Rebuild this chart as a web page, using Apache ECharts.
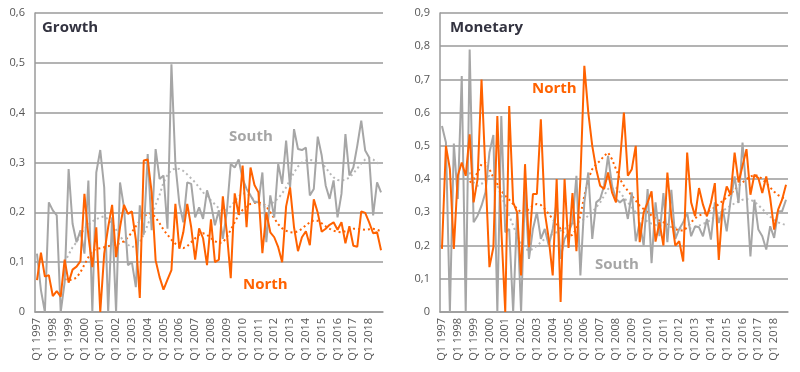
<!DOCTYPE html>
<html><head><meta charset="utf-8">
<script src="https://cdn.jsdelivr.net/npm/echarts@6/dist/echarts.min.js"></script>
<style>html,body{margin:0;padding:0;background:#fff}#c{width:800px;height:372px}</style>
</head><body><div id="c"></div>
<script>
const years = [];
for (let y = 1997; y <= 2018; y++) years.push(y);
const quarters = [];
years.forEach(y => { for (let q = 1; q <= 4; q++) quarters.push('Q' + q + ' ' + y); });

const growthNorth = [0.064,0.119,0.071,0.074,0.032,0.042,0.031,0.105,0.059,0.085,
0.091,0.102,0.237,0.153,0.09,0.17,0.0,0.117,0.17,0.215,
0.11,0.17,0.215,0.197,0.202,0.145,0.028,0.304,0.306,0.24,
0.104,0.07,0.045,0.065,0.084,0.217,0.127,0.16,0.217,0.17,
0.105,0.168,0.148,0.094,0.186,0.1,0.105,0.232,0.16,0.068,
0.238,0.195,0.294,0.17,0.29,0.255,0.24,0.118,0.2,0.16,
0.15,0.13,0.1,0.212,0.25,0.17,0.122,0.15,0.162,0.134,
0.226,0.199,0.161,0.167,0.175,0.18,0.165,0.18,0.138,0.172,
0.133,0.131,0.202,0.199,0.18,0.158,0.16,0.124];

const growthSouth = [0.117,0.044,0.0,0.22,0.204,0.194,0.0,0.06,0.287,0.177,
0.14,0.164,0.117,0.264,0.0,0.28,0.325,0.25,0.0,0.19,
0.0,0.26,0.21,0.094,0.1,0.05,0.214,0.155,0.317,0.164,
0.327,0.267,0.274,0.167,0.497,0.297,0.217,0.18,0.26,0.257,
0.19,0.21,0.187,0.244,0.217,0.174,0.204,0.147,0.2,0.297,
0.29,0.306,0.267,0.247,0.234,0.22,0.22,0.28,0.14,0.234,
0.19,0.297,0.257,0.344,0.25,0.367,0.327,0.325,0.33,0.234,
0.247,0.352,0.314,0.254,0.227,0.264,0.19,0.237,0.357,0.274,
0.29,0.334,0.384,0.324,0.31,0.194,0.26,0.24];

const growthSouthTrend = [null,null,null,null,null,null,null,
0.10,0.115,0.13,0.14,0.155,0.167,0.175,0.182,0.186,0.19,
0.192,0.186,0.177,0.165,0.152,0.142,0.135,0.13,0.133,0.14,
0.155,0.175,0.195,0.215,0.235,0.26,0.275,0.285,0.288,0.287,
0.283,0.276,0.268,0.26,0.25,0.24,0.232,0.224,0.216,0.208,
0.203,0.205,0.212,0.222,0.232,0.238,0.238,0.232,0.224,0.217,
0.212,0.21,0.215,0.222,0.228,0.238,0.25,0.265,0.28,0.292,
0.3,0.304,0.305,0.304,0.302,0.298,0.29,0.279,0.27,0.265,
0.264,0.265,0.27,0.278,0.288,0.298,0.306,0.309,0.306,0.3,0.294];

const growthNorthTrend = [null,null,null,null,null,null,null,
0.066,0.064,0.065,0.069,0.08,0.095,0.11,0.122,0.127,0.128,
0.13,0.132,0.134,0.135,0.138,0.142,0.15,0.16,0.172,0.183,
0.192,0.197,0.198,0.19,0.178,0.165,0.155,0.145,0.137,0.131,
0.128,0.132,0.14,0.148,0.155,0.158,0.155,0.148,0.142,0.138,
0.14,0.15,0.165,0.18,0.195,0.205,0.212,0.217,0.219,0.22,
0.218,0.212,0.2,0.188,0.176,0.168,0.163,0.16,0.159,0.162,
0.167,0.174,0.18,0.184,0.183,0.178,0.172,0.167,0.163,0.161,
0.16,0.162,0.165,0.167,0.167,0.166,0.165,0.166,0.167,0.165,0.162];

const monetaryNorth = [0.19,0.5,0.43,0.19,0.41,0.45,0.41,0.535,0.33,0.4,
0.7,0.42,0.135,0.195,0.59,0.25,0.0,0.62,0.33,0.3,
0.11,0.445,0.195,0.355,0.355,0.58,0.3,0.22,0.11,0.4,
0.03,0.4,0.193,0.358,0.183,0.4,0.741,0.6,0.5,0.43,
0.38,0.37,0.42,0.36,0.33,0.45,0.6,0.41,0.43,0.5,
0.21,0.3,0.33,0.363,0.212,0.27,0.2,0.42,0.288,0.2,
0.213,0.152,0.48,0.33,0.288,0.373,0.323,0.288,0.328,0.388,
0.157,0.323,0.378,0.353,0.48,0.39,0.44,0.49,0.353,0.413,
0.403,0.358,0.408,0.343,0.248,0.308,0.338,0.383];

const monetarySouth = [0.56,0.51,0.0,0.507,0.34,0.71,0.0,0.79,0.27,0.29,
0.32,0.36,0.48,0.533,0.0,0.59,0.24,0.25,0.0,0.3,
0.0,0.37,0.16,0.25,0.3,0.22,0.25,0.2,0.25,0.33,
0.16,0.22,0.24,0.27,0.41,0.11,0.33,0.42,0.22,0.33,
0.34,0.38,0.47,0.38,0.34,0.33,0.34,0.28,0.36,0.213,
0.27,0.2,0.37,0.147,0.33,0.228,0.358,0.21,0.368,0.22,
0.25,0.27,0.3,0.228,0.258,0.255,0.228,0.28,0.218,0.33,
0.268,0.31,0.243,0.338,0.408,0.328,0.51,0.36,0.167,0.338,
0.248,0.228,0.188,0.258,0.223,0.303,0.303,0.338];

const monetaryNorthTrend = [null,null,null,null,null,null,null,
0.39,0.4,0.42,0.445,0.45,0.43,0.405,0.385,0.365,0.35,
0.338,0.325,0.31,0.3,0.3,0.31,0.32,0.325,0.322,0.31,
0.295,0.28,0.265,0.25,0.235,0.228,0.232,0.25,0.29,0.35,
0.4,0.43,0.445,0.455,0.47,0.48,0.46,0.43,0.4,0.38,
0.365,0.35,0.335,0.32,0.31,0.3,0.29,0.282,0.275,0.27,
0.265,0.258,0.25,0.245,0.245,0.255,0.27,0.282,0.29,0.295,
0.3,0.308,0.315,0.325,0.335,0.345,0.355,0.368,0.38,0.39,
0.4,0.408,0.412,0.41,0.4,0.388,0.375,0.362,0.352,0.345,0.34];

const monetarySouthTrend = [null,null,null,null,null,null,null,
0.42,0.39,0.38,0.385,0.4,0.41,0.4,0.38,0.35,0.32,
0.29,0.26,0.23,0.205,0.19,0.185,0.19,0.2,0.21,0.22,
0.228,0.235,0.24,0.245,0.25,0.258,0.265,0.27,0.275,0.28,
0.29,0.3,0.315,0.33,0.35,0.37,0.38,0.375,0.36,0.345,
0.33,0.315,0.3,0.29,0.28,0.272,0.266,0.262,0.26,0.26,
0.258,0.256,0.254,0.252,0.25,0.25,0.252,0.255,0.26,0.265,
0.27,0.278,0.287,0.296,0.305,0.312,0.32,0.327,0.333,0.338,
0.34,0.338,0.332,0.322,0.31,0.298,0.287,0.277,0.27,0.265,0.262];

const ORANGE = '#ff6200', GRAY = '#a6a6a6', GRAYDOT = '#b8b8b8';
const FONT = 'Open Sans';
const fmt = v => v === 0 ? '0' : v.toFixed(1).replace('.', ',');

function xAxis(idx) {
  return {
    type: 'category', gridIndex: idx, data: quarters, boundaryGap: true,
    axisLine: { lineStyle: { color: '#9a9a9a', width: 1.5 } },
    axisTick: { interval: 0, length: 4, lineStyle: { color: '#9a9a9a' } },
    axisLabel: { interval: 3, rotate: 90, color: '#555', fontSize: 11, fontFamily: FONT, margin: 6 }
  };
}
function yAxis(idx, max) {
  return {
    type: 'value', gridIndex: idx, min: 0, max: max, interval: 0.1,
    axisLine: { show: true, lineStyle: { color: '#9a9a9a', width: 1.5 } },
    axisTick: { show: false },
    splitLine: { lineStyle: { color: '#9a9a9a', width: 1.5 } },
    axisLabel: { formatter: fmt, color: '#555', fontSize: 11, fontFamily: FONT, margin: 10 }
  };
}
function line(data, color, idx, dotted, z) {
  return {
    type: 'line', data: data, xAxisIndex: idx, yAxisIndex: idx, showSymbol: false, symbol: 'none',
    connectNulls: false, z: z, animation: false,
    lineStyle: { color: color, width: 2, type: dotted ? [2, 3] : 'solid' }
  };
}
const chart = echarts.init(document.getElementById('c'), null, { renderer: 'canvas' });
chart.setOption({
  animation: false,
  grid: [
    { left: 35, right: 417, top: 13, bottom: 60 },
    { left: 440, right: 12, top: 13, bottom: 60 }
  ],
  xAxis: [xAxis(0), xAxis(1)],
  yAxis: [yAxis(0, 0.6), yAxis(1, 0.9)],
  series: [
    line(growthSouthTrend, GRAYDOT, 0, true, 2),
    line(growthNorthTrend, ORANGE, 0, true, 3),
    line(growthSouth, GRAY, 0, false, 4),
    line(growthNorth, ORANGE, 0, false, 5),
    line(monetarySouthTrend, GRAYDOT, 1, true, 2),
    line(monetaryNorthTrend, ORANGE, 1, true, 3),
    line(monetarySouth, GRAY, 1, false, 4),
    line(monetaryNorth, ORANGE, 1, false, 5)
  ],
  graphic: [
    { type: 'text', left: 42, top: 20, style: { text: 'Growth', fill: '#333340', font: 'bold 15px "Open Sans"' } },
    { type: 'text', left: 450, top: 20, style: { text: 'Monetary', fill: '#333340', font: 'bold 15px "Open Sans"' } },
    { type: 'text', left: 229, top: 129, style: { text: 'South', fill: GRAY, font: 'bold 15px "Open Sans"' } },
    { type: 'text', left: 243, top: 277, style: { text: 'North', fill: ORANGE, font: 'bold 15px "Open Sans"' } },
    { type: 'text', left: 532, top: 81, style: { text: 'North', fill: ORANGE, font: 'bold 15px "Open Sans"' } },
    { type: 'text', left: 595, top: 257, style: { text: 'South', fill: GRAY, font: 'bold 15px "Open Sans"' } }
  ]
});
</script></body></html>
